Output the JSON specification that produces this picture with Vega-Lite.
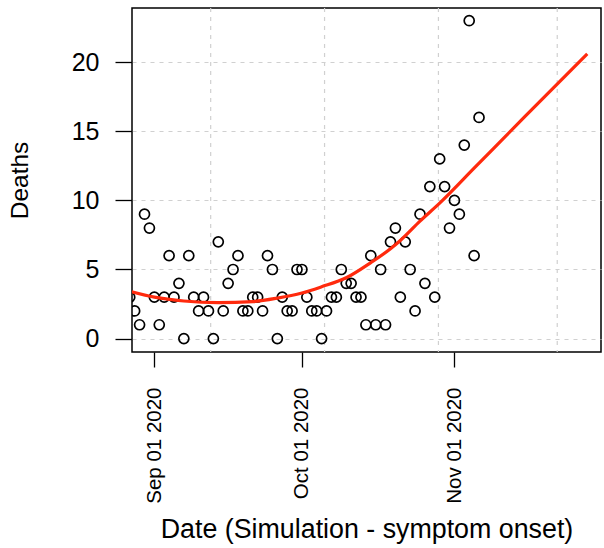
{
  "$schema": "https://vega.github.io/schema/vega-lite/v6.json",
  "width": 469,
  "height": 344,
  "autosize": {"type": "none"},
  "padding": {"left": 132, "top": 8, "right": 3, "bottom": 196},
  "background": "white",
  "config": {
    "view": {"stroke": "black", "strokeWidth": 1.5},
    "axis": {"labelFont": "Liberation Sans", "titleFont": "Liberation Sans", "labelColor": "black", "titleColor": "black", "tickColor": "black", "domain": false, "titleFontWeight": "normal"}
  },
  "datasets": {
    "pts": [
      {"date": "2020-08-27", "deaths": 3}, {"date": "2020-08-28", "deaths": 2}, {"date": "2020-08-29", "deaths": 1},
      {"date": "2020-08-30", "deaths": 9}, {"date": "2020-08-31", "deaths": 8}, {"date": "2020-09-01", "deaths": 3},
      {"date": "2020-09-02", "deaths": 1}, {"date": "2020-09-03", "deaths": 3}, {"date": "2020-09-04", "deaths": 6},
      {"date": "2020-09-05", "deaths": 3}, {"date": "2020-09-06", "deaths": 4}, {"date": "2020-09-07", "deaths": 0},
      {"date": "2020-09-08", "deaths": 6}, {"date": "2020-09-09", "deaths": 3}, {"date": "2020-09-10", "deaths": 2},
      {"date": "2020-09-11", "deaths": 3}, {"date": "2020-09-12", "deaths": 2}, {"date": "2020-09-13", "deaths": 0},
      {"date": "2020-09-14", "deaths": 7}, {"date": "2020-09-15", "deaths": 2}, {"date": "2020-09-16", "deaths": 4},
      {"date": "2020-09-17", "deaths": 5}, {"date": "2020-09-18", "deaths": 6}, {"date": "2020-09-19", "deaths": 2},
      {"date": "2020-09-20", "deaths": 2}, {"date": "2020-09-21", "deaths": 3}, {"date": "2020-09-22", "deaths": 3},
      {"date": "2020-09-23", "deaths": 2}, {"date": "2020-09-24", "deaths": 6}, {"date": "2020-09-25", "deaths": 5},
      {"date": "2020-09-26", "deaths": 0}, {"date": "2020-09-27", "deaths": 3}, {"date": "2020-09-28", "deaths": 2},
      {"date": "2020-09-29", "deaths": 2}, {"date": "2020-09-30", "deaths": 5}, {"date": "2020-10-01", "deaths": 5},
      {"date": "2020-10-02", "deaths": 3}, {"date": "2020-10-03", "deaths": 2}, {"date": "2020-10-04", "deaths": 2},
      {"date": "2020-10-05", "deaths": 0}, {"date": "2020-10-06", "deaths": 2}, {"date": "2020-10-07", "deaths": 3},
      {"date": "2020-10-08", "deaths": 3}, {"date": "2020-10-09", "deaths": 5}, {"date": "2020-10-10", "deaths": 4},
      {"date": "2020-10-11", "deaths": 4}, {"date": "2020-10-12", "deaths": 3}, {"date": "2020-10-13", "deaths": 3},
      {"date": "2020-10-14", "deaths": 1}, {"date": "2020-10-15", "deaths": 6}, {"date": "2020-10-16", "deaths": 1},
      {"date": "2020-10-17", "deaths": 5}, {"date": "2020-10-18", "deaths": 1}, {"date": "2020-10-19", "deaths": 7},
      {"date": "2020-10-20", "deaths": 8}, {"date": "2020-10-21", "deaths": 3}, {"date": "2020-10-22", "deaths": 7},
      {"date": "2020-10-23", "deaths": 5}, {"date": "2020-10-24", "deaths": 2}, {"date": "2020-10-25", "deaths": 9},
      {"date": "2020-10-26", "deaths": 4}, {"date": "2020-10-27", "deaths": 11}, {"date": "2020-10-28", "deaths": 3},
      {"date": "2020-10-29", "deaths": 13}, {"date": "2020-10-30", "deaths": 11}, {"date": "2020-10-31", "deaths": 8},
      {"date": "2020-11-01", "deaths": 10}, {"date": "2020-11-02", "deaths": 9}, {"date": "2020-11-03", "deaths": 14},
      {"date": "2020-11-04", "deaths": 23}, {"date": "2020-11-05", "deaths": 6}, {"date": "2020-11-06", "deaths": 16}
    ],
    "fit": [
      {"date": "2020-08-27", "deaths": 3.42}, {"date": "2020-09-01", "deaths": 3.0}, {"date": "2020-09-07", "deaths": 2.72},
      {"date": "2020-09-14", "deaths": 2.6}, {"date": "2020-09-21", "deaths": 2.68}, {"date": "2020-09-26", "deaths": 2.93},
      {"date": "2020-10-01", "deaths": 3.3}, {"date": "2020-10-05", "deaths": 3.75}, {"date": "2020-10-10", "deaths": 4.4},
      {"date": "2020-10-15", "deaths": 5.5}, {"date": "2020-10-19", "deaths": 6.5}, {"date": "2020-10-21", "deaths": 7.1},
      {"date": "2020-10-25", "deaths": 8.5}, {"date": "2020-10-29", "deaths": 9.8}, {"date": "2020-11-05", "deaths": 12.33},
      {"date": "2020-11-15", "deaths": 15.95}, {"date": "2020-11-28", "deaths": 20.6}
    ],
    "grid": [
      {"date": "2020-09-12T10:50:00Z"}, {"date": "2020-10-05T14:23:00Z"},
      {"date": "2020-10-28T17:56:00Z"}, {"date": "2020-11-21T21:30:00Z"}
    ]
  },
  "layer": [
    {
      "data": {"name": "grid"},
      "mark": {"type": "rule", "color": "#d0d0d0", "strokeWidth": 1.2, "strokeDash": [4, 5]},
      "encoding": {
        "x": {"field": "date", "type": "temporal"}
      }
    },
    {
      "data": {"name": "pts"},
      "mark": {"type": "point", "shape": "circle", "filled": false, "color": "black", "size": 100, "strokeWidth": 1.7, "opacity": 1, "clip": true},
      "encoding": {
        "x": {
          "field": "date", "type": "temporal",
          "scale": {"type": "utc", "domain": ["2020-08-27T11:00:00Z", "2020-11-30T19:00:00Z"], "nice": false},
          "axis": {
            "values": [
              {"year": 2020, "month": 9, "date": 1, "utc": true},
              {"year": 2020, "month": 10, "date": 1, "utc": true},
              {"year": 2020, "month": 11, "date": 1, "utc": true}
            ],
            "format": "%b %d %Y", "labelAngle": 270, "labelFontSize": 20.5, "tickSize": 15, "tickWidth": 1.3,
            "labelPadding": 20, "labelFlush": false, "labelOverlap": false, "grid": false,
            "title": "Date (Simulation - symptom onset)", "titleFontSize": 26.8, "titlePadding": 13
          }
        },
        "y": {
          "field": "deaths", "type": "quantitative",
          "scale": {"domain": [-0.97, 23.92], "nice": false, "zero": false},
          "axis": {
            "values": [0, 5, 10, 15, 20], "labelFontSize": 25, "tickSize": 17, "tickWidth": 1.3, "labelPadding": 16,
            "grid": true, "gridDash": [4, 5], "gridColor": "#d0d0d0", "gridWidth": 1.2,
            "title": "Deaths", "titleFontSize": 24.5, "titlePadding": 39
          }
        }
      }
    },
    {
      "data": {"name": "fit"},
      "mark": {"type": "line", "color": "#ff2a0d", "strokeWidth": 3.2, "interpolate": "monotone", "clip": true},
      "encoding": {
        "x": {"field": "date", "type": "temporal"},
        "y": {"field": "deaths", "type": "quantitative"}
      }
    }
  ]
}
